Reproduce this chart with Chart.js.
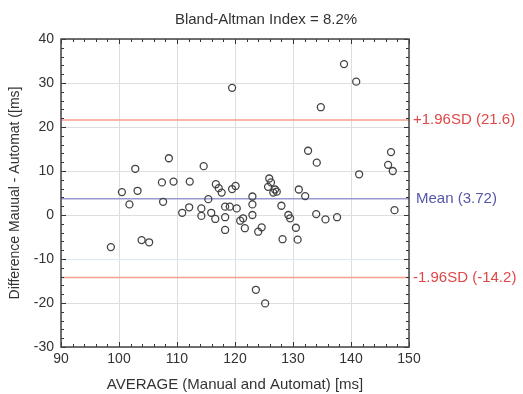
<!DOCTYPE html>
<html>
<head>
<meta charset="utf-8">
<script src="https://cdn.jsdelivr.net/npm/chart.js@4.4.1/dist/chart.umd.min.js"></script>
<style>
  html, body { margin: 0; padding: 0; background: #fff; }
  #wrap { width: 523px; height: 394px; }
</style>
</head>
<body>
<div id="wrap"><canvas id="chart-bland" width="523" height="394"></canvas></div>
<script>
    // average of the two methods (x) and their difference (y)
    var avgValues = [
        98.6, 100.5, 101.8, 102.8, 103.2, 103.9, 105.2, 107.4, 107.6, 108.6,
        109.4, 110.9, 112.1, 112.2, 114.2, 114.2, 114.6, 115.4, 115.9, 116.6,
        116.7, 117.2, 117.7, 118.3, 118.3, 118.3, 119.1, 119.5, 119.5, 120.1,
        120.3, 120.9, 121.4, 121.7, 123.0, 123.0, 123.0, 123.6, 124.0, 124.6,
        125.2, 125.7, 125.9, 126.2, 126.6, 126.9, 127.2, 128.0, 128.2, 129.2,
        129.5, 130.5, 130.8, 131.0, 132.1, 132.6, 134.0, 134.1, 134.8, 135.6,
        137.6, 138.8, 140.9, 141.4, 146.4, 146.9, 147.2, 147.5
    ];
    var diffValues = [
        -7.3, 5.2, 2.4, 10.5, 5.5, -5.7, -6.2, 7.4, 3.0, 12.9,
        7.6, 0.5, 1.75, 7.6, 1.5, -0.2, 11.1, 3.6, 0.5, -0.9,
        7.0, 6.1, 5.1, 1.9, -0.5, -3.4, 1.9, 5.9, 28.9, 6.6,
        1.5, -1.3, -0.75, -3.0, 4.2, 2.4, 0.0, -17.0, -3.8, -2.8,
        -20.1, 6.4, 8.3, 7.4, 5.1, 5.8, 5.3, 2.1, -5.5, 0.0,
        -0.75, -2.9, -5.6, 5.8, 4.3, 14.6, 0.2, 11.9, 24.5, -1.0,
        -0.5, 34.3, 30.3, 9.25, 11.4, 14.3, 10.0, 1.1
    ];
    var meanDiff = 3.72;
    var upperLimit = 21.6;
    var lowerLimit = -14.2;
    var xRange = [90, 150];
    var yRange = [-30, 40];
    var titleText = 'Bland-Altman Index = 8.2%';
    var limitLabels = ['+1.96SD (21.6)', 'Mean (3.72)', '-1.96SD (-14.2)'];

    var scatterPoints = avgValues.map(function(v, i) {
        return { x: v, y: diffValues[i] };
    });

    function flatLine(val) {
        return [{ x: xRange[0], y: val }, { x: xRange[1], y: val }];
    }

    var fontFamily = "'Liberation Sans', Arial, sans-serif";

    // title, limit labels, plot frame and minor ticks
    var decorPlugin = {
        id: 'decor',
        afterDraw: function(chart) {
            var ctx = chart.ctx;
            var area = chart.chartArea;
            var xs = chart.scales.x;
            var ys = chart.scales.y;
            ctx.save();

            ctx.strokeStyle = '#333';
            ctx.lineWidth = 1;
            var v, px, py, len;
            for (v = xRange[0]; v <= xRange[1]; v += 2) {
                px = Math.round(xs.getPixelForValue(v)) + 0.5;
                len = (v % 10 === 0) ? 5 : 3;
                ctx.beginPath();
                ctx.moveTo(px, area.bottom); ctx.lineTo(px, area.bottom - len);
                ctx.moveTo(px, area.top); ctx.lineTo(px, area.top + len);
                ctx.stroke();
            }
            for (v = yRange[0]; v <= yRange[1]; v += 2) {
                py = Math.round(ys.getPixelForValue(v)) + 0.5;
                len = (v % 10 === 0) ? 5 : 3;
                ctx.beginPath();
                ctx.moveTo(area.left, py); ctx.lineTo(area.left + len, py);
                ctx.moveTo(area.right, py); ctx.lineTo(area.right - len, py);
                ctx.stroke();
            }
            ctx.lineWidth = 1.5;
            ctx.strokeStyle = '#444';
            ctx.strokeRect(area.left, area.top, area.right - area.left, area.bottom - area.top);

            ctx.fillStyle = '#333';
            ctx.font = '15px ' + fontFamily;
            ctx.textAlign = 'center';
            ctx.textBaseline = 'middle';
            ctx.fillText(titleText, 266, 20);

            ctx.textAlign = 'left';
            ctx.font = '15px ' + fontFamily;
            ctx.fillStyle = '#e04848';
            ctx.fillText(limitLabels[0], area.right + 4, ys.getPixelForValue(upperLimit));
            ctx.fillStyle = '#5656a8';
            ctx.fillText(limitLabels[1], area.right + 7, ys.getPixelForValue(meanDiff));
            ctx.fillStyle = '#e04848';
            ctx.fillText(limitLabels[2], area.right + 4, ys.getPixelForValue(lowerLimit));
            ctx.restore();
        }
    };

    var configBland = {
        type: 'scatter',
        data: {
            datasets: [{
                label: 'Upper',
                type: 'line',
                data: flatLine(upperLimit),
                borderColor: '#f4a08c',
                borderWidth: 1.5,
                pointRadius: 0,
                order: 3
            }, {
                label: 'Mean',
                type: 'line',
                data: flatLine(meanDiff),
                borderColor: '#9a9ad0',
                borderWidth: 1.5,
                pointRadius: 0,
                order: 3
            }, {
                label: 'Lower',
                type: 'line',
                data: flatLine(lowerLimit),
                borderColor: '#f4a08c',
                borderWidth: 1.5,
                pointRadius: 0,
                order: 3
            }, {
                label: 'Differences',
                data: scatterPoints,
                pointStyle: 'circle',
                pointRadius: 3.5,
                pointBorderWidth: 1.3,
                pointBorderColor: '#444',
                pointBackgroundColor: 'rgba(255,255,255,0)',
                order: 1
            }]
        },
        options: {
            responsive: false,
            animation: false,
            layout: { padding: { top: 39, right: 114, left: 0, bottom: 0 } },
            plugins: {
                legend: { display: false },
                tooltip: { enabled: false }
            },
            scales: {
                x: {
                    type: 'linear',
                    min: xRange[0],
                    max: xRange[1],
                    afterFit: function(scale) { scale.height = 47; },
                    ticks: {
                        stepSize: 10,
                        color: '#333',
                        padding: 4,
                        maxRotation: 0,
                        font: { family: fontFamily, size: 14 }
                    },
                    grid: { color: '#dedede', drawTicks: false },
                    border: { display: false },
                    title: {
                        display: true,
                        text: 'AVERAGE (Manual and Automat) [ms]',
                        color: '#333',
                        padding: { top: 3, bottom: 0 },
                        font: { family: fontFamily, size: 15 }
                    }
                },
                y: {
                    type: 'linear',
                    min: yRange[0],
                    max: yRange[1],
                    afterFit: function(scale) { scale.width = 61; },
                    ticks: {
                        stepSize: 10,
                        color: '#333',
                        padding: 7,
                        font: { family: fontFamily, size: 14 }
                    },
                    grid: {
                        drawTicks: false,
                        color: function(c) {
                            return (c.tick && c.tick.value === -10) ? '#d4ecf6' : '#dedede';
                        }
                    },
                    border: { display: false },
                    title: {
                        display: true,
                        text: 'Difference Mauual - Automat ([ms]',
                        color: '#333',
                        padding: { top: 7, bottom: 4 },
                        font: { family: fontFamily, size: 14 }
                    }
                }
            }
        },
        plugins: [decorPlugin]
    };

    window.onload = function() {
        var ctxBland = document.getElementById('chart-bland').getContext('2d');
        window.myBland = new Chart(ctxBland, configBland);
    };
</script>
</body>
</html>
